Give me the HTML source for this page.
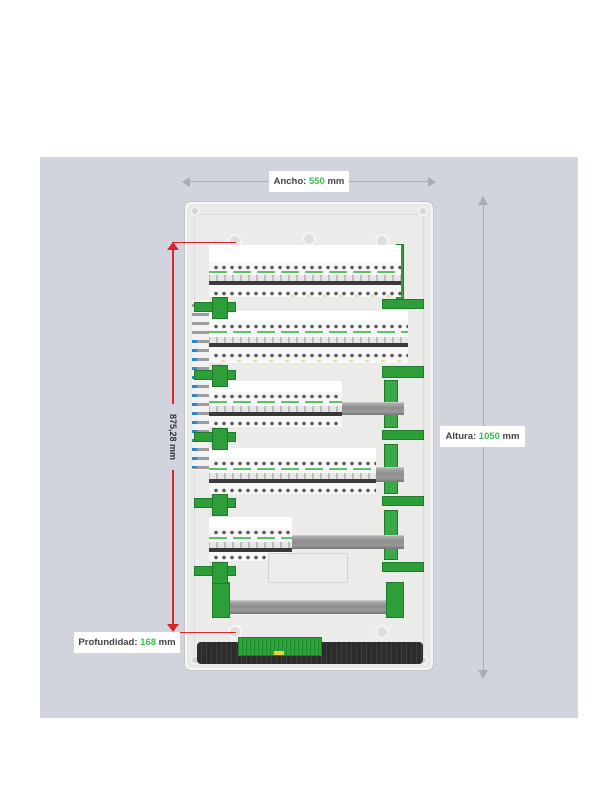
<!DOCTYPE html>
<html><head><meta charset="utf-8"><style>
*{margin:0;padding:0;box-sizing:border-box}
body{width:612px;height:792px;background:#fff;position:relative;overflow:hidden;font-family:"Liberation Sans",sans-serif}
.a{position:absolute}
.panel{left:40px;top:157px;width:538px;height:561px;background:#d0d4dc}
.enc{left:185px;top:202px;width:248px;height:468px;background:#e9e9e7;border:2px solid #f6f6f6;border-radius:6px;box-shadow:0 0 0 1px #c4c6c8}
.inner{left:194px;top:214px;width:230px;height:446px;background:#ebebe9;border:1px solid #dcdcdc}
.row{position:absolute;background:#f7f7f7}
.row .lab{position:absolute;left:0;right:0;top:0;height:11px;background:#fff}
.row .d1,.row .d2{position:absolute;left:3px;right:0;height:5px;background:radial-gradient(circle,#555 1.5px,transparent 2px) 0 0/8px 5px repeat-x}
.row .g{position:absolute;left:0;right:0;height:2px;background:repeating-linear-gradient(90deg,#5fc06a 0 18px,#fff 18px 24px)}
.row .m{position:absolute;left:0;right:0;height:10px;background:repeating-linear-gradient(90deg,#bdbdbd 0 1px,#e6e6e6 1px 7px,#bdbdbd 7px 8px);border-bottom:4px solid #3a3a3a}
.row .y{position:absolute;left:6px;right:0;height:4px;background:radial-gradient(ellipse,#e3c441 2px,transparent 2.5px) 0 0/16px 4px repeat-x}
.rail{position:absolute;background:linear-gradient(#b0b0b0,#8d8d8d 40%,#9a9a9a 70%,#777);border-top:1px solid #c8c8c8}
.gr{position:absolute;background:#2e9e3a;border:1px solid #1f7a2a}
.lbl{position:absolute;background:#fff;font-size:9.5px;font-weight:bold;color:#444;text-align:center;line-height:21px;height:21px}
.lbl b{color:#3dba4e}
</style></head><body>
<div class="a panel"></div>
<div class="a enc"></div>
<div class="a inner"></div>
<div class="a" style="left:190px;top:206px;width:10px;height:10px;border-radius:50%;background:#d5d5d5;border:2px solid #f2f2f2"></div>
<div class="a" style="left:418px;top:206px;width:10px;height:10px;border-radius:50%;background:#d5d5d5;border:2px solid #f2f2f2"></div>
<div class="a" style="left:190px;top:655px;width:10px;height:10px;border-radius:50%;background:#d5d5d5;border:2px solid #f2f2f2"></div>
<div class="a" style="left:418px;top:655px;width:10px;height:10px;border-radius:50%;background:#d5d5d5;border:2px solid #f2f2f2"></div>
<div class="a" style="left:228px;top:234px;width:14px;height:14px;border-radius:50%;background:#dedede;border:2px solid #f4f4f4"></div>
<div class="a" style="left:302px;top:232px;width:14px;height:14px;border-radius:50%;background:#dedede;border:2px solid #f4f4f4"></div>
<div class="a" style="left:375px;top:234px;width:14px;height:14px;border-radius:50%;background:#dedede;border:2px solid #f4f4f4"></div>
<div class="a" style="left:228px;top:625px;width:14px;height:14px;border-radius:50%;background:#dedede;border:2px solid #f4f4f4"></div>
<div class="a" style="left:375px;top:625px;width:14px;height:14px;border-radius:50%;background:#dedede;border:2px solid #f4f4f4"></div>
<!-- right green vertical pieces -->
<div class="gr" style="left:396px;top:244px;width:8px;height:56px"></div>
<div class="gr" style="left:384px;top:312px;width:14px;height:50px;background:#3aa846"></div>
<div class="gr" style="left:384px;top:380px;width:14px;height:48px;background:#3aa846"></div>
<div class="gr" style="left:384px;top:444px;width:14px;height:50px;background:#3aa846"></div>
<div class="gr" style="left:384px;top:510px;width:14px;height:50px;background:#3aa846"></div>
<!-- left terminal strip -->
<div class="a" style="left:192px;top:300px;width:17px;height:170px;background:repeating-linear-gradient(#f2f2f2 0 4px,#9a9a9a 4px 7px,#f2f2f2 7px 9px);"></div>
<div class="a" style="left:192px;top:340px;width:5px;height:128px;background:repeating-linear-gradient(#2a88c8 0 3px,transparent 3px 9px)"></div>
<div class="a" style="left:209px;top:296px;width:12px;height:280px;background:#e4e4e2;border-right:1px solid #d0d0d0"></div>
<!-- row1 -->
<div class="row" style="left:209px;top:245px;width:192px;height:52px">
<div class="lab" style="height:17px"></div><div class="d1" style="top:20px"></div><div class="g" style="top:26px"></div><div class="m" style="top:30px"></div><div class="d2" style="top:46px"></div></div>
<div class="a" style="left:285px;top:294px;width:120px;height:4px;background:radial-gradient(ellipse,#e3c441 2px,transparent 2.5px) 0 0/16px 4px repeat-x"></div>
<!-- row2 -->
<div class="row" style="left:209px;top:311px;width:199px;height:52px">
<div class="lab"></div><div class="d1" style="top:13px"></div><div class="g" style="top:20px"></div><div class="m" style="top:26px"></div><div class="d2" style="top:42px"></div><div class="y" style="top:48px"></div></div>
<!-- row3 -->
<div class="row" style="left:209px;top:381px;width:133px;height:46px">
<div class="lab"></div><div class="d1" style="top:13px"></div><div class="g" style="top:20px"></div><div class="m" style="top:25px"></div><div class="d2" style="top:40px"></div></div>
<div class="rail" style="left:342px;top:402px;width:62px;height:13px"></div>
<!-- row4 -->
<div class="row" style="left:209px;top:448px;width:167px;height:46px">
<div class="lab"></div><div class="d1" style="top:13px"></div><div class="g" style="top:20px"></div><div class="m" style="top:25px"></div><div class="d2" style="top:40px"></div></div>
<div class="rail" style="left:376px;top:467px;width:28px;height:15px"></div>
<!-- row5 -->
<div class="row" style="left:209px;top:517px;width:83px;height:44px">
<div class="lab"></div><div class="d1" style="top:13px"></div><div class="g" style="top:20px"></div><div class="m" style="top:25px"></div><div class="d2" style="top:38px"></div></div>
<div class="rail" style="left:292px;top:535px;width:112px;height:14px"></div>
<div class="a" style="left:268px;top:553px;width:80px;height:30px;border:1px solid #d2d2d2;background:#ececea"></div>
<!-- bottom rail -->
<div class="rail" style="left:212px;top:600px;width:192px;height:14px"></div>
<div class="gr" style="left:212px;top:582px;width:18px;height:36px"></div>
<div class="gr" style="left:386px;top:582px;width:18px;height:36px"></div>
<!-- left green clamps -->
<div class="gr" style="left:194px;top:302px;width:42px;height:10px"></div><div class="gr" style="left:212px;top:297px;width:16px;height:22px"></div>
<div class="gr" style="left:194px;top:370px;width:42px;height:10px"></div><div class="gr" style="left:212px;top:365px;width:16px;height:22px"></div>
<div class="gr" style="left:194px;top:432px;width:42px;height:10px"></div><div class="gr" style="left:212px;top:428px;width:16px;height:22px"></div>
<div class="gr" style="left:194px;top:498px;width:42px;height:10px"></div><div class="gr" style="left:212px;top:494px;width:16px;height:22px"></div>
<div class="gr" style="left:194px;top:566px;width:42px;height:10px"></div><div class="gr" style="left:212px;top:562px;width:16px;height:22px"></div>
<!-- right clamps -->
<div class="gr" style="left:382px;top:299px;width:42px;height:10px"></div>
<div class="gr" style="left:382px;top:366px;width:42px;height:12px"></div>
<div class="gr" style="left:382px;top:430px;width:42px;height:10px"></div>
<div class="gr" style="left:382px;top:496px;width:42px;height:10px"></div>
<div class="gr" style="left:382px;top:562px;width:42px;height:10px"></div>
<!-- bottom black bar -->
<div class="a" style="left:197px;top:642px;width:226px;height:22px;background:repeating-linear-gradient(90deg,#2c2c2c 0 4px,#3c3c3c 4px 5px);border-radius:4px"></div>
<div class="gr" style="left:238px;top:637px;width:84px;height:19px;background:repeating-linear-gradient(90deg,#2fa33c 0 3px,#1f8a2c 3px 4px)"></div>
<div class="a" style="left:274px;top:651px;width:10px;height:4px;background:#e5d530"></div>
<!-- dimensions -->
<div class="a" style="left:186px;top:181px;width:248px;height:1px;background:#a9adb3"></div>
<div class="a" style="left:182px;top:177px;width:0;height:0;border:5px solid transparent;border-right:8px solid #a9adb3;border-left:0"></div>
<div class="a" style="left:428px;top:177px;width:0;height:0;border:5px solid transparent;border-left:8px solid #a9adb3;border-right:0"></div>
<div class="lbl" style="left:269px;top:171px;width:80px">Ancho: <b>550</b> mm</div>
<div class="a" style="left:483px;top:200px;width:1px;height:476px;background:#a9adb3"></div>
<div class="a" style="left:478px;top:196px;width:0;height:0;border:5px solid transparent;border-bottom:9px solid #a9adb3;border-top:0"></div>
<div class="a" style="left:478px;top:670px;width:0;height:0;border:5px solid transparent;border-top:9px solid #a9adb3;border-bottom:0"></div>
<div class="lbl" style="left:440px;top:426px;width:85px">Altura: <b>1050</b> mm</div>
<div class="a" style="left:172px;top:247px;width:1.5px;height:380px;background:#e0222a"></div>
<div class="a" style="left:172px;top:242px;width:64px;height:1.2px;background:#e0222a"></div>
<div class="a" style="left:172px;top:632px;width:64px;height:1.2px;background:#e0222a"></div>
<div class="a" style="left:167px;top:242px;width:0;height:0;border:6px solid transparent;border-bottom:8px solid #e0222a;border-top:0"></div>
<div class="a" style="left:167px;top:624px;width:0;height:0;border:6px solid transparent;border-top:8px solid #e0222a;border-bottom:0"></div>
<div class="a" style="left:140px;top:430px;width:66px;height:14px;background:#d0d4dc;transform:rotate(90deg);font-size:9px;font-weight:bold;color:#333;text-align:center;line-height:14px">875,28 mm</div>
<div class="lbl" style="left:74px;top:632px;width:106px">Profundidad: <b>168</b> mm</div>
</body></html>
